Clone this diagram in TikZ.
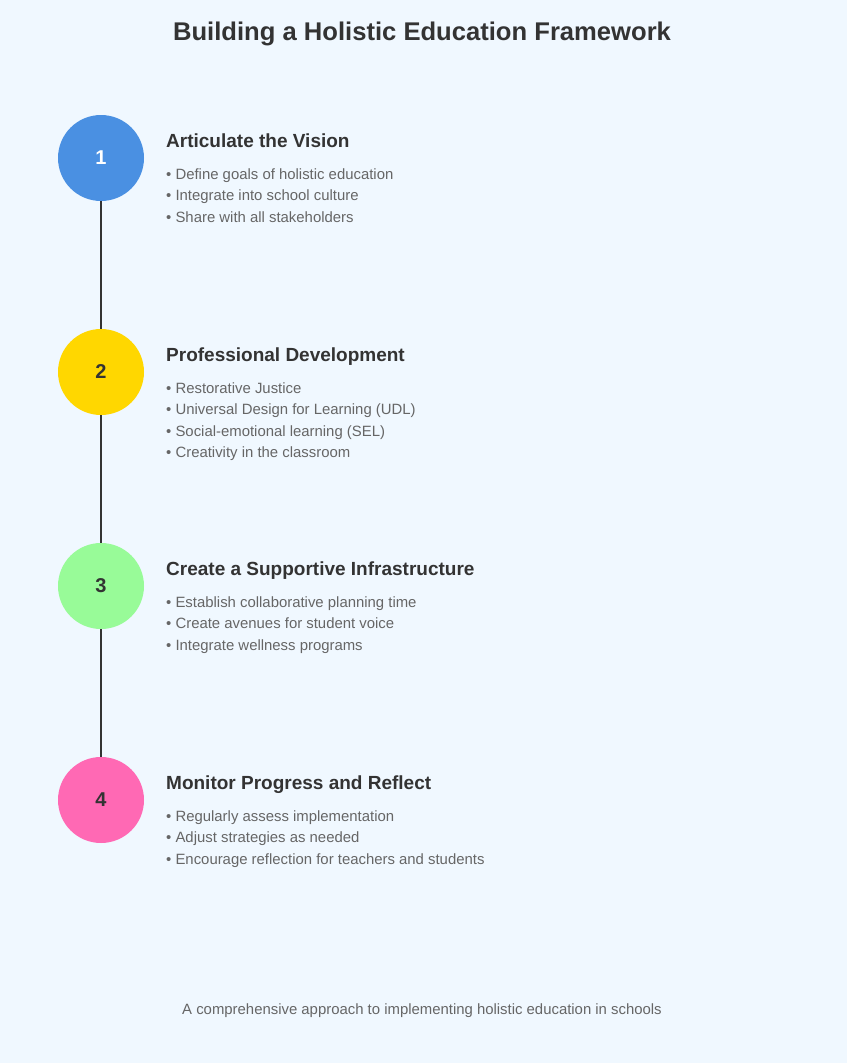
\documentclass[tikz,border=0pt]{standalone}
\usepackage{fontspec}
\setmainfont{Liberation Sans}
\definecolor{bg}{HTML}{F0F8FF}
\definecolor{dark}{HTML}{333333}
\definecolor{grey}{HTML}{666666}
\definecolor{cblue}{HTML}{4A90E2}
\definecolor{cyellow}{HTML}{FFD700}
\definecolor{cgreen}{HTML}{98FB98}
\definecolor{cpink}{HTML}{FF69B4}
\begin{document}
\begin{tikzpicture}[x=1pt,y=-1pt,
  stepcircle/.style={circle,minimum size=86pt,inner sep=0pt,font=\fontsize{20}{22}\selectfont\bfseries},
  heading/.style={anchor=base west,inner sep=0pt,text=dark,font=\fontsize{19}{22}\selectfont\bfseries},
  bullet/.style={anchor=base west,inner sep=0pt,text=grey,font=\fontsize{14.9}{17}\selectfont},
  connector/.style={draw=dark,line width=2pt}]
\fill[bg] (0,0) rectangle (847,1063);
\useasboundingbox (0,0) rectangle (847,1063);
\node[anchor=base,inner sep=0pt,text=dark,font=\fontsize{25.6}{28}\selectfont\bfseries] (title) at (422,40) {Building a Holistic Education Framework};
% circles
\node[stepcircle,fill=cblue,text=white] (c1) at (101,158) {1};
\node[stepcircle,fill=cyellow,text=dark] (c2) at (101,372) {2};
\node[stepcircle,fill=cgreen,text=dark] (c3) at (101,586) {3};
\node[stepcircle,fill=cpink,text=dark] (c4) at (101,800) {4};
\draw[connector] (c1) -- (c2);
\draw[connector] (c2) -- (c3);
\draw[connector] (c3) -- (c4);
% step 1
\node[heading] (h1) at (166,147) {Articulate the Vision};
\node[bullet] (b11) at (166,179) {• Define goals of holistic education};
\node[bullet] (b12) at (166,200.5) {• Integrate into school culture};
\node[bullet] (b13) at (166,222) {• Share with all stakeholders};
% step 2
\node[heading] (h2) at (166,361) {Professional Development};
\node[bullet] (b21) at (166,393) {• Restorative Justice};
\node[bullet] (b22) at (166,414.5) {• Universal Design for Learning (UDL)};
\node[bullet] (b23) at (166,436) {• Social-emotional learning (SEL)};
\node[bullet] (b24) at (166,457.5) {• Creativity in the classroom};
% step 3
\node[heading] (h3) at (166,575) {Create a Supportive Infrastructure};
\node[bullet] (b31) at (166,607) {• Establish collaborative planning time};
\node[bullet] (b32) at (166,628.5) {• Create avenues for student voice};
\node[bullet] (b33) at (166,650) {• Integrate wellness programs};
% step 4
\node[heading] (h4) at (166,789) {Monitor Progress and Reflect};
\node[bullet] (b41) at (166,821) {• Regularly assess implementation};
\node[bullet] (b42) at (166,842.5) {• Adjust strategies as needed};
\node[bullet] (b43) at (166,864) {• Encourage reflection for teachers and students};
% footer
\node[anchor=base,inner sep=0pt,text=grey,font=\fontsize{14.9}{17}\selectfont] (foot) at (422,1014) {A comprehensive approach to implementing holistic education in schools};
\end{tikzpicture}
\end{document}
